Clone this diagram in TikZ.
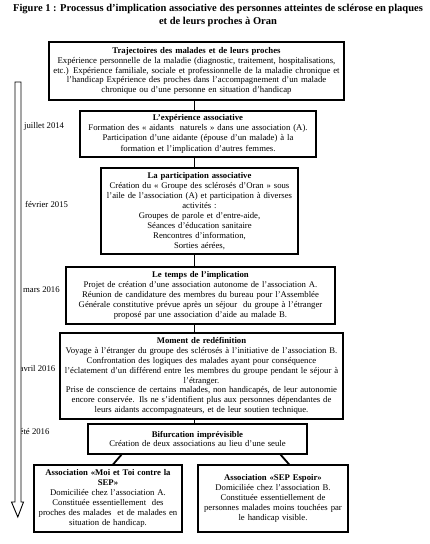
\documentclass[tikz,border=0pt]{standalone}
\usepackage{fontspec}
\setmainfont{Liberation Serif}
\usetikzlibrary{calc}
\begin{document}
\begin{tikzpicture}[x=1pt,y=-1pt,
  box/.style={draw=black,line width=1.1pt,align=center,inner sep=1pt,
    font=\fontsize{8.7}{9.9}\selectfont},
  link/.style={draw=black,line width=1.8pt},
  datelbl/.style={anchor=west,inner sep=0pt,font=\fontsize{8.7}{9.9}\selectfont},
  timearrow/.style={draw=black,line width=0.9pt,fill=white}]
\useasboundingbox (0,0) rectangle (430,544);

\node[inner sep=0pt,align=center,font=\bfseries\fontsize{10.5}{13.5}\selectfont] (title) at (218,15.5)
  {Figure 1 : Processus d’implication associative des personnes atteintes de sclérose en plaques\\
   et de leurs proches à Oran};

\node[box,minimum width=295pt,minimum height=58pt,text width=293pt,
  font=\fontsize{8.75}{9.6}\selectfont] (b1) at (196.5,71)
  {\textbf{Trajectoires des malades et de leurs proches}\\
   Expérience personnelle de la maladie (diagnostic, traitement, hospitalisations,\\
   etc.) Expérience familiale, sociale et professionnelle de la maladie chronique et\\
   l’handicap Expérience des proches dans l’accompagnement d’un malade\\
   chronique ou d’une personne en situation d’handicap};

\node[box,minimum width=236pt,minimum height=46pt,text width=234pt] (b2) at (198,134)
  {\textbf{L’expérience associative}\\
   Formation des « aidants\ \ naturels » dans une association (A).\\
   Participation d’une aidante (épouse d’un malade) à la\\[1.5pt]
   formation et l’implication d’autres femmes.};

\node[box,minimum width=197pt,minimum height=86pt,text width=195pt] (b3) at (199.5,211)
  {\textbf{La participation associative}\\
   Création du « Groupe des sclérosés d’Oran » sous\\
   l’aile de l’association (A) et participation à diverses\\
   activités :\\
   Groupes de parole et d’entre-aide,\\
   Séances d’éducation sanitaire\\
   Rencontres d’information,\\
   Sorties aérées,};

\node[box,minimum width=269pt,minimum height=57pt,text width=267pt] (b4) at (200.5,295.5)
  {\textbf{Le temps de l’implication}\\
   Projet de création d’une association autonome de l’association A.\\
   Réunion de candidature des membres du bureau pour l’Assemblée\\
   Générale constitutive prévue après un séjour\ \ du groupe à l’étranger\\
   proposé par une association d’aide au malade B.};

\node[box,minimum width=283pt,minimum height=86pt,text width=281pt] (b5) at (201.5,376)
  {\textbf{Moment de redéfinition}\\
   Voyage à l’étranger du groupe des sclérosés à l’initiative de l’association B.\\
   Confrontation des logiques des malades ayant pour conséquence\\
   l’éclatement d’un différend entre les membres du groupe pendant le séjour à\\
   l’étranger.\\
   Prise de conscience de certains malades, non handicapés, de leur autonomie\\
   encore conservée. Ils ne s’identifient plus aux personnes dépendantes de\\
   leurs aidants accompagnateurs, et de leur soutien technique.};

\node[box,minimum width=219pt,minimum height=30pt,text width=217pt] (b6) at (197.5,439)
  {\textbf{Bifurcation imprévisible}\\
   Création de deux associations au lieu d’une seule};

\node[box,minimum width=148pt,minimum height=67pt,text width=146pt] (b7) at (108,498.5)
  {\textbf{Association «Moi et Toi contre la}\\
   \textbf{SEP»}\\
   Domiciliée chez l’association A.\\
   Constituée essentiellement\ \ des\\
   proches des malades\ \ et de malades en\\
   situation de handicap.};

\node[box,minimum width=150pt,minimum height=67pt,text width=148pt] (b8) at (273,498.5)
  {\textbf{Association «SEP Espoir»}\\
   Domiciliée chez l’association B.\\
   Constituée essentiellement de\\
   personnes malades moins touchées par\\
   le handicap visible.\\[6pt]};

% spine connectors
\coordinate (sp) at (194.5,0);
\draw[link] (b1.south -| sp) -- (b2.north -| sp);
\draw[link] (b2.south -| sp) -- (b3.north -| sp);
\draw[link] (b3.south -| sp) -- (b4.north -| sp);
\draw[link] (b4.south -| sp) -- (b5.north -| sp);
\draw[link] (b5.south -| sp) -- (b6.north -| sp);
\draw[link] ($(b6.south west)!0.155!(b6.south east)$) -- ($(b7.north west)!0.534!(b7.north east)$);
\draw[link] ($(b6.south west)!0.877!(b6.south east)$) -- ($(b8.north west)!0.607!(b8.north east)$);

% dates
\node[datelbl] (d1) at (24,126) {juillet 2014};
\node[datelbl] (d2) at (25,204) {février 2015};
\node[datelbl] (d3) at (23,290) {mars 2016};
\node[datelbl] (d4) at (19.5,369) {avril 2016};
\node[datelbl] (d5) at (19.5,432) {été 2016};

% timeline arrow
\draw[timearrow] (15,82) -- (21,82) -- (21,502) -- (23.5,502) -- (17.8,517)
  -- (11.5,502) -- (15,502) -- cycle;
\end{tikzpicture}
\end{document}
